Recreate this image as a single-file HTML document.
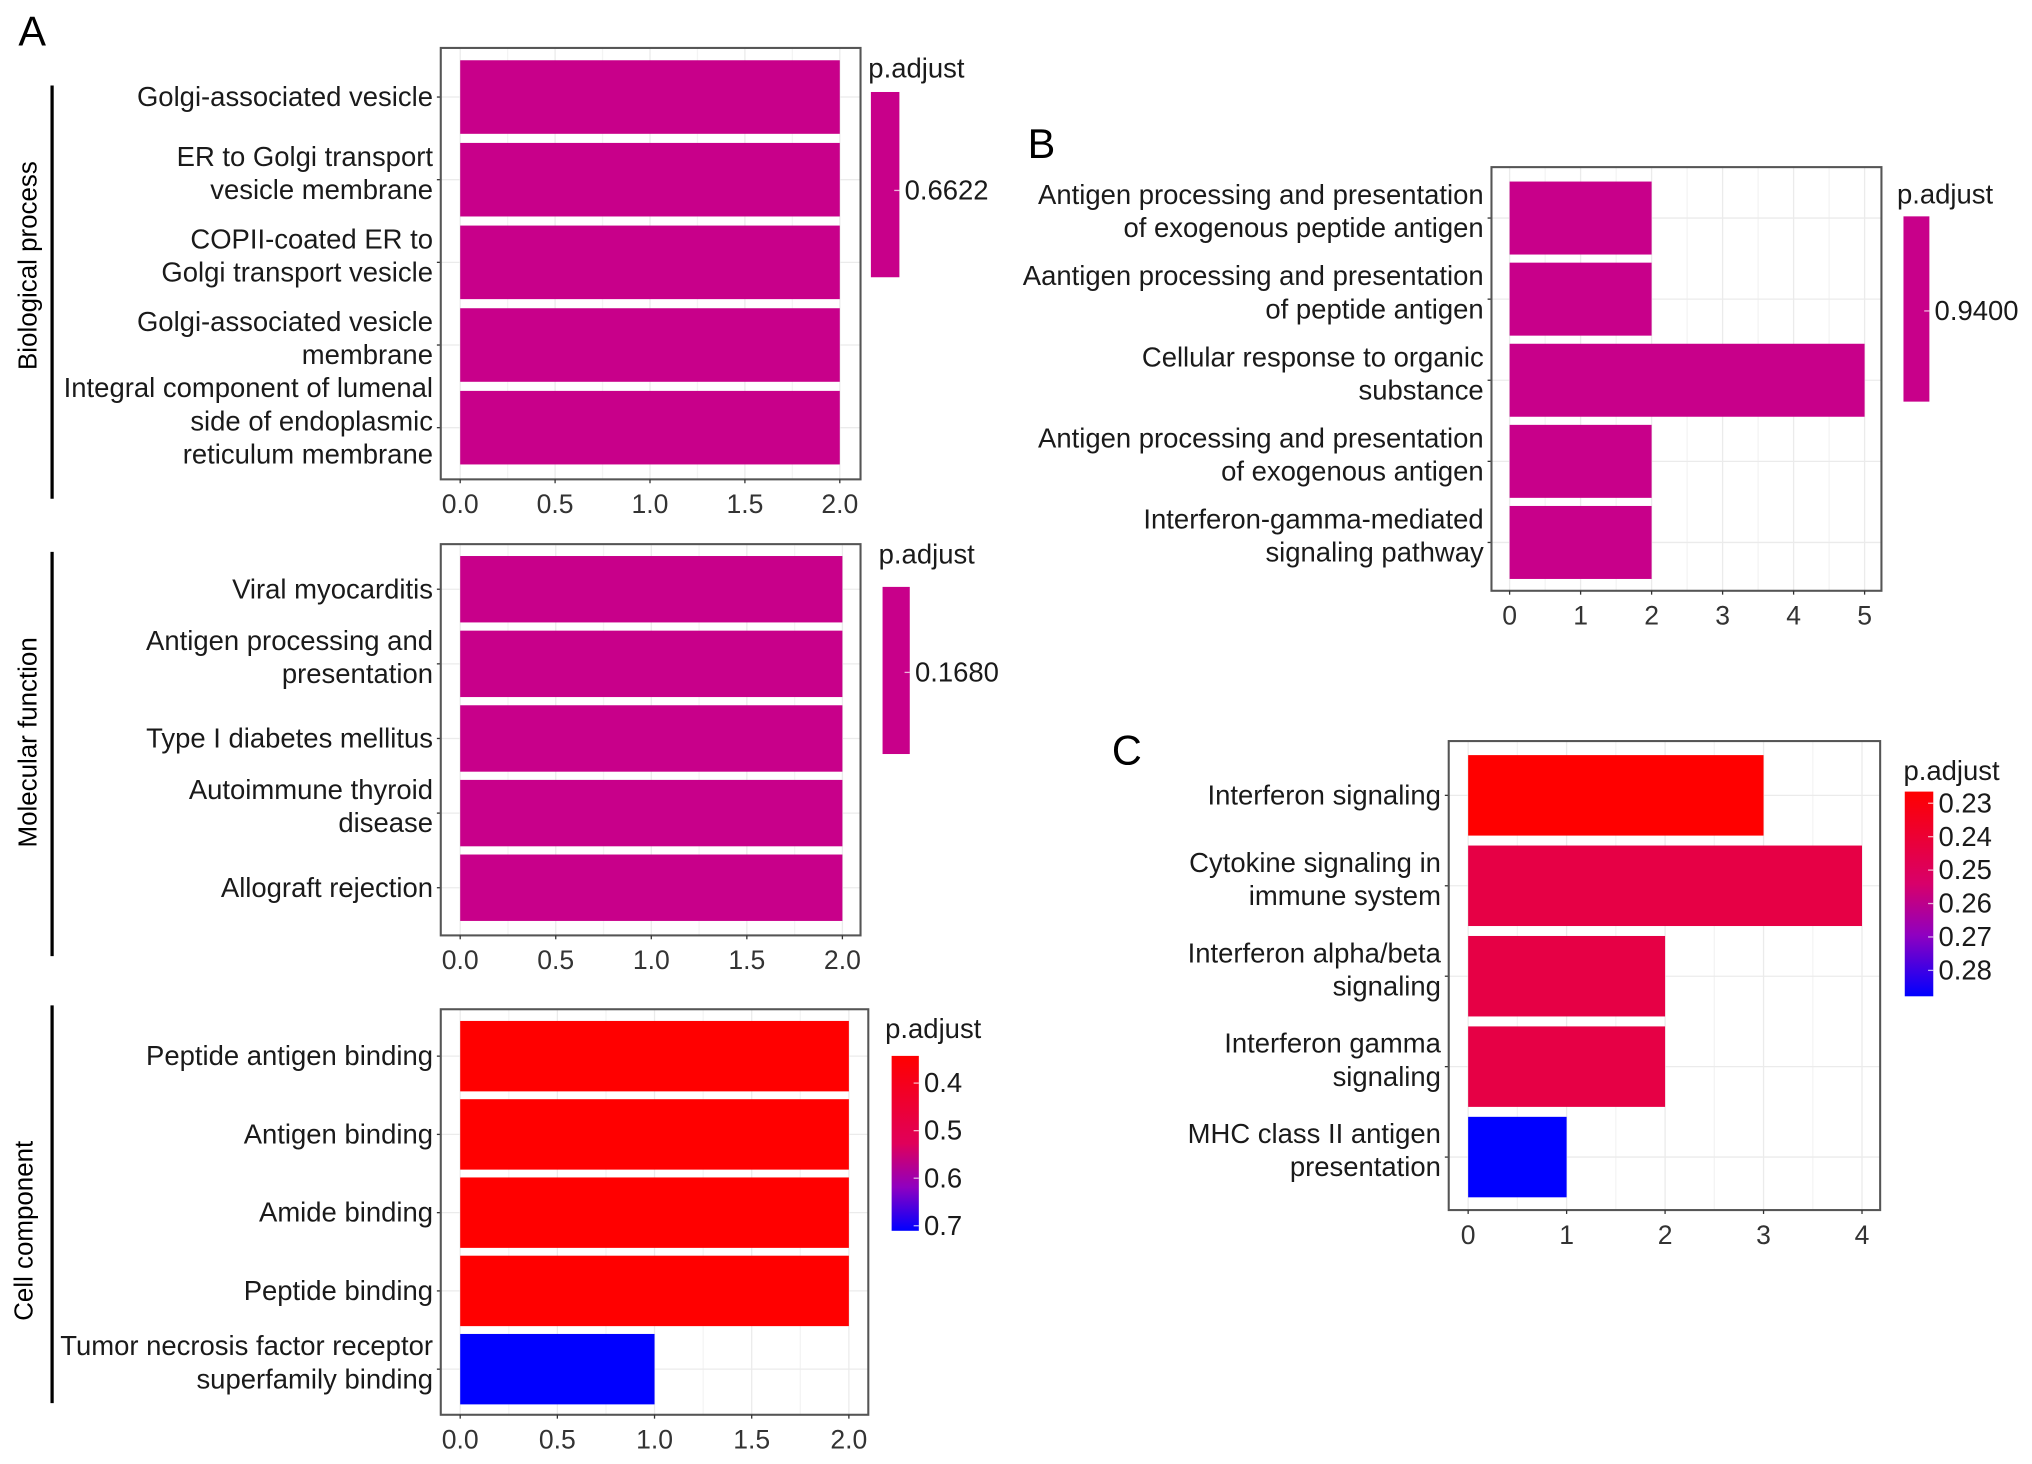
<!DOCTYPE html>
<html><head><meta charset="utf-8"><style>
html,body{margin:0;padding:0;background:#fff}
svg{display:block;font-family:"Liberation Sans",Arial,sans-serif}
</style></head><body>
<svg id="fig" width="2032" height="1464" viewBox="0 0 1568 1130">
<defs>
<linearGradient id="gcc" x1="0" y1="0" x2="0" y2="1"><stop offset="0" stop-color="#ff0000"/><stop offset="0.5" stop-color="#e0005a"/><stop offset="0.75" stop-color="#9000c0"/><stop offset="1" stop-color="#0000ff"/></linearGradient>
<linearGradient id="gc" x1="0" y1="0" x2="0" y2="1"><stop offset="0" stop-color="#ff0000"/><stop offset="0.45" stop-color="#d8006a"/><stop offset="0.7" stop-color="#9000c0"/><stop offset="1" stop-color="#0000ff"/></linearGradient>
</defs>
<text x="14" y="35" font-size="32">A</text>
<text x="793" y="122" font-size="32">B</text>
<text x="858" y="590" font-size="32">C</text>
<line x1="40" y1="66" x2="40" y2="385" stroke="#000" stroke-width="2.5"/>
<line x1="40" y1="426" x2="40" y2="738" stroke="#000" stroke-width="2.5"/>
<line x1="40" y1="776" x2="40" y2="1083" stroke="#000" stroke-width="2.5"/>
<text transform="translate(28,205) rotate(-90)" font-size="20" text-anchor="middle">Biological process</text>
<text transform="translate(28,573) rotate(-90)" font-size="20" text-anchor="middle">Molecular function</text>
<text transform="translate(25,950) rotate(-90)" font-size="20" text-anchor="middle">Cell component</text>
<g id="charts"></g>
</svg>
<script>
// Panel A - Biological process
const bpCategories = [["Golgi-associated vesicle"],["ER to Golgi transport","vesicle membrane"],["COPII-coated ER to","Golgi transport vesicle"],["Golgi-associated vesicle","membrane"],["Integral component of lumenal","side of endoplasmic","reticulum membrane"]];
const bpValues = [2,2,2,2,2];
const bpPadj = [0.6622,0.6622,0.6622,0.6622,0.6622];
const bpTicks = [0,0.5,1,1.5,2];
const bpTickLabels = ["0.0","0.5","1.0","1.5","2.0"];
const bpLegendLabels = ["0.6622"];
// Molecular function
const mfCategories = [["Viral myocarditis"],["Antigen processing and","presentation"],["Type I diabetes mellitus"],["Autoimmune thyroid","disease"],["Allograft rejection"]];
const mfValues = [2,2,2,2,2];
const mfPadj = [0.168,0.168,0.168,0.168,0.168];
const mfTicks = [0,0.5,1,1.5,2];
const mfTickLabels = ["0.0","0.5","1.0","1.5","2.0"];
const mfLegendLabels = ["0.1680"];
// Cell component
const ccCategories = [["Peptide antigen binding"],["Antigen binding"],["Amide binding"],["Peptide binding"],["Tumor necrosis factor receptor","superfamily binding"]];
const ccValues = [2,2,2,2,1];
const ccPadj = [0.38,0.38,0.38,0.38,0.72];
const ccTicks = [0,0.5,1,1.5,2];
const ccTickLabels = ["0.0","0.5","1.0","1.5","2.0"];
const ccLegendLabels = ["0.4","0.5","0.6","0.7"];
// Panel B
const bCategories = [["Antigen processing and presentation","of exogenous peptide antigen"],["Aantigen processing and presentation","of peptide antigen"],["Cellular response to organic","substance"],["Antigen processing and presentation","of exogenous antigen"],["Interferon-gamma-mediated","signaling pathway"]];
const bValues = [2,2,5,2,2];
const bPadj = [0.94,0.94,0.94,0.94,0.94];
const bTicks = [0,1,2,3,4,5];
const bTickLabels = ["0","1","2","3","4","5"];
const bLegendLabels = ["0.9400"];
// Panel C
const cCategories = [["Interferon signaling"],["Cytokine signaling in","immune system"],["Interferon alpha/beta","signaling"],["Interferon gamma","signaling"],["MHC class II antigen","presentation"]];
const cValues = [3,4,2,2,1];
const cPadj = [0.226,0.245,0.245,0.245,0.284];
const cTicks = [0,1,2,3,4];
const cTickLabels = ["0","1","2","3","4"];
const cLegendLabels = ["0.23","0.24","0.25","0.26","0.27","0.28"];

const NS="http://www.w3.org/2000/svg";
const root=document.getElementById('charts');
function mk(tag,attrs,parent){const e=document.createElementNS(NS,tag);for(const k in attrs)e.setAttribute(k,attrs[k]);(parent||root).appendChild(e);return e;}
function lerp(a,b,t){return a+(b-a)*t;}
function colorScale(v,lo,hi){
  if(hi===lo) return "#c8008a";
  const t=Math.max(0,Math.min(1,(v-lo)/(hi-lo)));
  const stops=[[0,[255,0,0]],[0.45,[220,0,95]],[0.7,[144,0,192]],[1,[0,0,255]]];
  for(let i=0;i<stops.length-1;i++){const [t0,c0]=stops[i],[t1,c1]=stops[i+1];
    if(t<=t1){const u=(t-t0)/(t1-t0);return `rgb(${Math.round(lerp(c0[0],c1[0],u))},${Math.round(lerp(c0[1],c1[1],u))},${Math.round(lerp(c0[2],c1[2],u))})`;}}
  return "rgb(0,0,255)";
}
const FS=21.2;
function chart(p){
  const g=mk('g',{});
  
  
  const x=v=>p.x0+(v-p.ticks[0])*(p.x1-p.x0)/(p.ticks[p.ticks.length-1]-p.ticks[0]);
  const n=p.cats.length;
  const band=(p.by1-p.by0)/n;
  p.ticks.forEach((t,i)=>{
    const gl=mk('line',{x1:x(t),x2:x(t),y1:p.box[1],y2:p.box[3],stroke:'#ebebeb','stroke-width':1},g);
    
    
    if(i<p.ticks.length-1){const mg=mk('line',{x1:(x(t)+x(p.ticks[i+1]))/2,x2:(x(t)+x(p.ticks[i+1]))/2,y1:p.box[1],y2:p.box[3],stroke:'#f4f4f4','stroke-width':1},g);
      
      }
  });
  p.cats.forEach((c,i)=>{const yc=p.by0+band*(i+0.5);
    const hl=mk('line',{x1:p.box[0],x2:p.box[2],y1:yc,y2:yc,stroke:'#ebebeb','stroke-width':1},g);
    
    });
  p.vals.forEach((v,i)=>{
    const yc=p.by0+band*(i+0.5);const h=band*p.fill;
    const r=mk('rect',{x:x(0),y:yc-h/2,width:x(v)-x(0),height:h,fill:p.color(p.padj[i])},g);
    
    
    const c=p.cats[i];const lh=25.5;const start=yc-(c.length-1)*lh/2+(c.length>1?2:7);
    const t=mk('text',{x:p.box[0]-6,y:start,'text-anchor':'end','font-size':FS,fill:'#1a1a1a'},g);
    
    
    c.forEach((ln,j)=>{const ts=mk('tspan',{x:p.box[0]-6,y:start+j*lh},t);ts.textContent=ln;});
    const tk=mk('line',{x1:p.box[0]-3,x2:p.box[0],y1:yc,y2:yc,stroke:'#333','stroke-width':1},g);
    
    
  });
  const box=mk('rect',{x:p.box[0],y:p.box[1],width:p.box[2]-p.box[0],height:p.box[3]-p.box[1],fill:'none',stroke:'#555','stroke-width':1.6},g);
  
  
  p.ticks.forEach((t,i)=>{
    const tk=mk('line',{x1:x(t),x2:x(t),y1:p.box[3],y2:p.box[3]+3,stroke:'#333','stroke-width':1},g);
    
    
    const tl=mk('text',{x:x(t),y:p.box[3]+26,'text-anchor':'middle','font-size':20.5,fill:'#333'},g);
    
    
    tl.textContent=p.tickLabels[i];
  });
  const L=p.legend;
  const lt=mk('text',{x:L.tx,y:L.ty,'font-size':FS,fill:'#1a1a1a'},g);
  
  
  lt.textContent='p.adjust';
  const lb=mk('rect',{x:L.x,y:L.y,width:L.w,height:L.h,fill:L.fill},g);
  
  
  L.labels.forEach((s,i)=>{const yy=L.ly0+i*L.lstep;
    const tk=mk('line',{x1:L.x+L.w-4,x2:L.x+L.w,y1:yy,y2:yy,stroke:'#fff','stroke-width':1,opacity:0.7},g);
    
    
    const tx=mk('text',{x:L.x+L.w+4,y:yy+7,'font-size':FS,fill:'#1a1a1a'},g);
    
    
    tx.textContent=s;});
}
const magenta=()=>"#c8008a";
chart({name:'bp-chart',cats:bpCategories,vals:bpValues,padj:bpPadj,ticks:bpTicks,tickLabels:bpTickLabels,x0:355,x1:648,by0:43,by1:362,fill:0.89,box:[340,37,664,370],color:magenta,
  legend:{tx:670,ty:60,x:672,y:71,w:22,h:143,fill:'#c8008a',labels:bpLegendLabels,ly0:147,lstep:0}});
chart({name:'mf-chart',cats:mfCategories,vals:mfValues,padj:mfPadj,ticks:mfTicks,tickLabels:mfTickLabels,x0:355,x1:650,by0:426,by1:714,fill:0.89,box:[340,420,664,722],color:magenta,
  legend:{tx:678,ty:435,x:681,y:453,w:21,h:129,fill:'#c8008a',labels:mfLegendLabels,ly0:519,lstep:0}});
chart({name:'cc-chart',cats:ccCategories,vals:ccValues,padj:ccPadj,ticks:ccTicks,tickLabels:ccTickLabels,x0:355,x1:655,by0:785,by1:1087,fill:0.9,box:[340,779,670,1092],color:v=>colorScale(v,0.38,0.72),
  legend:{tx:683,ty:801,x:688,y:815,w:21,h:135,fill:'url(#gcc)',labels:ccLegendLabels,ly0:836,lstep:36.7}});
chart({name:'b-chart',cats:bCategories,vals:bValues,padj:bPadj,ticks:bTicks,tickLabels:bTickLabels,x0:1165,x1:1439,by0:137,by1:450,fill:0.9,box:[1151,129,1452,456],color:magenta,
  legend:{tx:1464,ty:157,x:1469,y:167,w:20,h:143,fill:'#c8008a',labels:bLegendLabels,ly0:240,lstep:0}});
chart({name:'c-chart',cats:cCategories,vals:cValues,padj:cPadj,ticks:cTicks,tickLabels:cTickLabels,x0:1133,x1:1437,by0:579,by1:928,fill:0.89,box:[1118,572,1451,934],color:v=>colorScale(v,0.226,0.284),
  legend:{tx:1469,ty:602,x:1470,y:611,w:22,h:158,fill:'url(#gc)',labels:cLegendLabels,ly0:620,lstep:25.8}});
</script>
</body></html>
